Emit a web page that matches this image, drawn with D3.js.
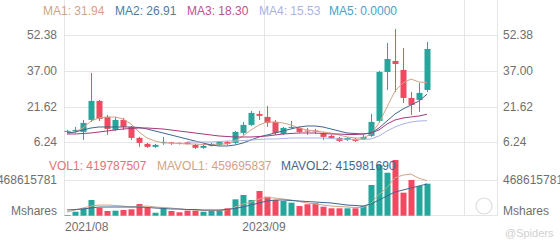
<!DOCTYPE html>
<html>
<head>
<meta charset="utf-8">
<script src="https://cdn.jsdelivr.net/npm/d3@7"></script>
<style>
body{margin:0;background:#fff;}
svg{display:block;font-family:"Liberation Sans",Arial,sans-serif;}
</style>
</head>
<body>
<div id="chart"></div>
<script>
// monthly candles, 2021/08 .. 2025/05
var opens  = [10.71,11.14,10.71,15.87,24.03,17.16,11.57,15.87,12.86,8.14,5.56,4.27,5.99,6.2,5.99,6.2,5.13,3.84,4.70,5.13,6.42,5.99,10.28,13.72,18.45,17.16,15.01,9.85,12.43,12.43,11.3,11.3,10.28,8.99,8.14,7.28,7.71,7.71,9.0,15.44,36.49,41.21,37.35,25.32,24.46,28.76]
var highs  = [11.57,12.86,15.87,36.06,24.46,18.02,17.16,16.73,13.29,8.57,5.99,5.56,8.57,6.42,6.2,6.42,5.56,5.13,5.99,6.85,6.85,11.14,15.01,19.73,19.73,21.88,15.87,12.86,15.44,12.86,12.43,12.0,10.71,9.42,8.57,8.57,8.14,9.42,18.45,36.92,48.94,54.96,46.8,27.9,31.76,49.37]
var lows   = [10.28,10.28,7.28,15.01,15.44,9.42,11.14,11.57,7.28,4.27,3.84,3.84,5.13,5.13,5.3,5.3,3.41,3.41,4.5,4.70,5.13,5.56,9.42,13.29,15.87,12.86,9.42,9.42,12.0,10.28,9.42,9.85,7.28,7.71,6.42,6.85,6.42,7.28,8.6,14.58,28.76,27.9,23.17,18.02,19.31,27.9]
var closes = [11.14,11.57,14.58,24.03,16.3,12.0,15.87,12.86,8.14,5.99,4.27,5.13,6.42,5.8,5.56,5.56,3.84,4.70,5.56,6.42,5.56,10.71,13.72,18.88,17.59,14.58,10.28,12.43,12.86,10.71,10.9,10.9,8.57,8.14,6.85,8.14,6.85,8.57,15.01,36.49,42.07,39.92,25.32,22.31,27.47,46.37]
var volumes = [9e6,52e6,97e6,206e6,105e6,62e6,66e6,75e6,84e6,154e6,105e6,39e6,97e6,62e6,45e6,66e6,66e6,52e6,62e6,75e6,97e6,215e6,272e6,206e6,324e6,249e6,206e6,193e6,171e6,127e6,150e6,163e6,118e6,97e6,97e6,97e6,97e6,127e6,403e6,665e6,564e6,731e6,302e6,469e6,390e6,419787507]

// moving average lines
var ma1 = [10.24,10.67,12.39,15.40,16.69,17.12,17.12,16.26,14.11,10.67,8.09,6.80,5.94,5.94,5.72,5.51,5.51,5.29,5.29,5.51,5.51,6.80,8.95,11.53,13.68,14.97,14.97,14.54,13.68,12.39,11.53,11.10,10.67,10.24,9.38,8.52,8.09,8.09,9.81,14.5,21.42,28.30,31.74,33.46,32.17,31.94]
var ma2 = [10.24,10.67,11.53,12.39,12.82,12.82,12.82,12.82,12.82,12.60,11.96,11.10,10.24,9.38,8.52,7.66,6.80,5.94,5.08,4.65,4.65,5.08,5.94,7.23,8.52,9.38,10.24,11.10,11.96,12.82,13.25,13.25,12.82,11.96,11.10,10.24,10.03,9.81,10.24,12.39,15.40,18.41,20.56,22.28,24.00,26.91]
var ma3 = [9.81,9.81,10.03,10.24,10.67,11.10,11.53,11.96,12.17,12.39,12.39,12.17,11.96,11.53,11.10,10.67,10.24,9.81,9.38,8.95,8.73,8.52,8.52,8.52,8.73,8.95,9.38,9.81,10.03,10.24,10.24,10.24,10.03,9.81,9.81,9.59,9.59,9.81,10.24,11.53,14.11,15.83,16.69,17.12,17.55,18.30]
var ma4 = [null,null,null,null,null,null,null,null,null,null,null,null,null,null,null,6.37,6.37,6.37,6.37,6.58,6.80,6.80,7.01,7.23,7.44,7.66,7.66,7.87,8.09,8.09,8.09,8.09,8.09,7.87,7.66,7.66,7.44,7.44,7.66,8.95,11.10,12.82,14.11,14.97,15.40,15.53]
var mavol1 = [48.6e6,74.8e6,101e6,127e6,140e6,140e6,134e6,127e6,114e6,121e6,127e6,114e6,108e6,101e6,88e6,81e6,75e6,68e6,68e6,68e6,75e6,114e6,154e6,180e6,219e6,239e6,232e6,219e6,206e6,186e6,167e6,154e6,140e6,127e6,121e6,114e6,108e6,108e6,164e6,278e6,371e6,498e6,533e6,546e6,491e6,459695837]
var mavol2 = [75e6,81e6,88e6,101e6,114e6,114e6,114e6,114e6,114e6,114e6,108e6,101e6,95e6,88e6,88e6,81e6,81e6,75e6,75e6,75e6,81e6,95e6,114e6,140e6,167e6,193e6,206e6,206e6,200e6,193e6,186e6,180e6,173e6,167e6,154e6,140e6,134e6,127e6,154e6,206e6,259e6,311e6,337e6,364e6,390e6,415981690]

var priceTicks = [6.24, 21.62, 37.00, 52.38]
var volTicks = [468615781]
var dateTicks = ["2021/08", "2023/09", ""]
var dateTickIdx = [0, 25, 50]

var maNames = ["MA1: 31.94", "MA2: 26.91", "MA3: 18.30", "MA4: 15.53", "MA5: 0.0000"]
var volNames = ["VOL1: 419787507", "MAVOL1: 459695837", "MAVOL2: 415981690"]

window.onload = function(){
    var width = 560, height = 240;
    var left = 64, right = 497;
    var up = "#26a69a", down = "#ef4a62";
    var grid = "#e6e6e6", axisText = "#6f6f6f";
    var maColors = ["#d3a285", "#3f6690", "#a33a7c", "#aab2e6", "#4aa0cf"];
    var maLegendColors = ["#d3a285", "#4f7c9b", "#c0508f", "#aab2e6", "#4aa0cf"];
    var volColors = ["#e8707c", "#d3a285", "#3f6690"];

    var svg = d3.select("#chart").append("svg")
        .attr("width", width)
        .attr("height", height);

    var x = d3.scaleLinear().domain([0, 50]).range([67, 467]);
    var y = d3.scaleLinear().domain([6.24, 52.38]).range([142.3, 35]);
    var yv = d3.scaleLinear().domain([0, 468615781]).range([215.7, 180]);
    var barW = 6;

    // grid
    svg.selectAll(".vgrid").data(dateTickIdx).enter().append("line")
        .attr("x1", d => Math.round(x(d) - barW / 2) + 0.5)
        .attr("x2", d => Math.round(x(d) - barW / 2) + 0.5)
        .attr("y1", 0).attr("y2", 216)
        .style("stroke", grid);
    svg.selectAll(".hgrid").data(priceTicks).enter().append("line")
        .attr("x1", left).attr("x2", right)
        .attr("y1", d => Math.round(y(d)) + 0.5)
        .attr("y2", d => Math.round(y(d)) + 0.5)
        .style("stroke", grid);
    svg.selectAll(".vgridv").data(volTicks).enter().append("line")
        .attr("x1", left).attr("x2", right)
        .attr("y1", d => Math.round(yv(d)) + 0.5)
        .attr("y2", d => Math.round(yv(d)) + 0.5)
        .style("stroke", grid);
    svg.append("line").attr("x1", right + 0.5).attr("x2", right + 0.5)
        .attr("y1", 0).attr("y2", 216).style("stroke", grid);
    svg.append("line").attr("x1", left).attr("x2", right)
        .attr("y1", 215.5).attr("y2", 215.5).style("stroke", grid);

    // clip for plot
    svg.append("clipPath").attr("id", "main").append("rect")
        .attr("x", left).attr("y", 0).attr("width", right - left).attr("height", 152);
    svg.append("clipPath").attr("id", "vol").append("rect")
        .attr("x", left).attr("y", 152).attr("width", right - left).attr("height", 64);

    // watermark
    svg.append("circle").attr("cx", 484).attr("cy", 206).attr("r", 8)
        .style("fill", "none").style("stroke", "#dcdcdc").style("stroke-width", 1.2);
    svg.append("text").attr("x", 505).attr("y", 237).text("@Spiders")
        .style("font-size", "11px").style("fill", "#d0d0d0");

    var idx = d3.range(closes.length);

    // candles
    var main = svg.append("g").attr("clip-path", "url(#main)");
    main.selectAll(".wick").data(idx).enter().append("line")
        .attr("x1", i => Math.round(x(i)) + 0.5)
        .attr("x2", i => Math.round(x(i)) + 0.5)
        .attr("y1", i => y(highs[i]))
        .attr("y2", i => y(lows[i]))
        .style("stroke", i => closes[i] >= opens[i] ? up : down);
    main.selectAll(".body").data(idx).enter().append("rect")
        .attr("x", i => Math.round(x(i)) - barW / 2 + 0.5)
        .attr("width", barW)
        .attr("y", i => y(Math.max(opens[i], closes[i])))
        .attr("height", i => Math.max(1, Math.abs(y(opens[i]) - y(closes[i]))))
        .style("fill", i => closes[i] >= opens[i] ? up : down);

    // MA lines
    var line = d3.line()
        .defined(d => d != null)
        .x((d, i) => x(i))
        .y(d => y(d));
    [ma1, ma2, ma3, ma4].forEach(function(s, k){
        main.append("path")
            .attr("d", line(s))
            .style("fill", "none")
            .style("stroke", maColors[k])
            .style("stroke-width", 1);
    });

    // volume
    var vol = svg.append("g").attr("clip-path", "url(#vol)");
    vol.selectAll(".vbar").data(idx).enter().append("rect")
        .attr("x", i => Math.round(x(i)) - barW / 2 + 0.5)
        .attr("width", barW)
        .attr("y", i => yv(volumes[i]))
        .attr("height", i => yv(0) - yv(volumes[i]))
        .style("fill", i => closes[i] >= opens[i] ? up : down);
    var vline = d3.line()
        .x((d, i) => x(i))
        .y(d => yv(d));
    [mavol1, mavol2].forEach(function(s, k){
        vol.append("path")
            .attr("d", vline(s))
            .style("fill", "none")
            .style("stroke", volColors[k + 1])
            .style("stroke-width", 1);
    });

    // axis labels
    var txt = function(sel){
        return sel.style("font-size", "12px").style("fill", axisText)
            .attr("dominant-baseline", "central");
    };
    priceTicks.forEach(function(p){
        txt(svg.append("text")).attr("x", 57).attr("y", y(p)).attr("text-anchor", "end").text(p.toFixed(2));
        txt(svg.append("text")).attr("x", 503).attr("y", y(p)).text(p.toFixed(2));
    });
    volTicks.forEach(function(v){
        txt(svg.append("text")).attr("x", 57).attr("y", yv(v)).attr("text-anchor", "end").text(v);
        txt(svg.append("text")).attr("x", 503).attr("y", yv(v)).text(v);
    });
    txt(svg.append("text")).attr("x", 57).attr("y", 211).attr("text-anchor", "end").text("Mshares");
    txt(svg.append("text")).attr("x", 503).attr("y", 211).text("Mshares");

    dateTicks.forEach(function(t, k){
        if(!t) return;
        var cx = Math.round(x(dateTickIdx[k]) - barW / 2);
        var lbl = txt(svg.append("text")).attr("y", 227).text(t);
        if(k == 0){
            lbl.attr("x", cx + 1);
        } else {
            lbl.attr("x", cx).attr("text-anchor", "middle");
        }
    });

    // legends
    var maX = [43, 115, 187, 259, 329];
    maNames.forEach(function(n, k){
        svg.append("text").attr("x", maX[k]).attr("y", 10.5)
            .attr("dominant-baseline", "central")
            .style("font-size", "12px").style("fill", maLegendColors[k]).text(n);
    });
    var volX = [49, 157, 281];
    volNames.forEach(function(n, k){
        svg.append("text").attr("x", volX[k]).attr("y", 166)
            .attr("dominant-baseline", "central")
            .style("font-size", "12px").style("fill", volColors[k]).text(n);
    });
};
</script>
</body>
</html>
